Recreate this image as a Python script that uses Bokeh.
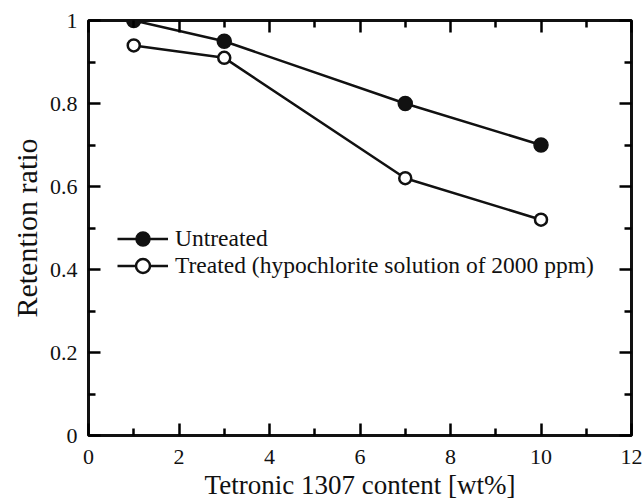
from bokeh.plotting import figure
from bokeh.models import LinearAxis, FixedTicker, Range1d, Legend, LegendItem
from bokeh.embed import file_html
from bokeh.resources import INLINE

content = [1, 3, 7, 10]
untreated = [1.0, 0.95, 0.8, 0.7]
treated = [0.94, 0.91, 0.62, 0.52]
x_ticks = [0, 2, 4, 6, 8, 10, 12]
x_minor = [1, 3, 5, 7, 9, 11]
y_ticks = [0, 0.2, 0.4, 0.6, 0.8, 1.0]
y_minor = [0.1, 0.3, 0.5, 0.7, 0.9]
y_labels = {0: "0", 0.2: "0.2", 0.4: "0.4", 0.6: "0.6", 0.8: "0.8", 1: "1"}

FONT = "Liberation Serif"
INK = "#111111"

p = figure(width=642, height=502, output_backend="svg", toolbar_location=None,
           x_range=Range1d(0, 12), y_range=Range1d(0, 1),
           x_axis_type=None, y_axis_type=None,
           min_border_left=88, min_border_right=11, min_border_top=20, min_border_bottom=66)
p.grid.visible = False
p.outline_line_color = INK
p.outline_line_width = 3
p.background_fill_color = None
p.border_fill_color = "white"

xt = FixedTicker(ticks=x_ticks, minor_ticks=x_minor)
yt = FixedTicker(ticks=y_ticks, minor_ticks=y_minor)

def style(ax, labels=True):
    ax.major_tick_in = 12
    ax.major_tick_out = 0
    ax.minor_tick_in = 7
    ax.minor_tick_out = 0
    ax.major_tick_line_color = "#000000"
    ax.minor_tick_line_color = "#000000"
    ax.major_tick_line_width = 2.5
    ax.minor_tick_line_width = 2.5
    ax.axis_line_color = None
    ax.major_label_text_font = FONT
    ax.major_label_text_font_size = "22px"
    ax.major_label_text_color = INK
    ax.axis_label_text_font = FONT
    ax.axis_label_text_font_style = "normal"
    ax.axis_label_text_color = INK
    if not labels:
        ax.major_label_text_font_size = "0px"
        ax.major_label_text_alpha = 0
        ax.major_label_standoff = 0

xb = LinearAxis(ticker=xt, axis_label="Tetronic 1307 content [wt%]")
style(xb)
xb.axis_label_text_font_size = "27px"
xb.major_label_standoff = 14
xb.axis_label_standoff = 3
yl = LinearAxis(ticker=yt, axis_label="Retention ratio", major_label_overrides=y_labels)
style(yl)
yl.axis_label_text_font_size = "30px"
yl.major_label_standoff = 11
yl.axis_label_standoff = 4
xa = LinearAxis(ticker=xt)
style(xa, False)
yr = LinearAxis(ticker=yt)
style(yr, False)
p.add_layout(xb, "below")
p.add_layout(yl, "left")
p.add_layout(xa, "above")
p.add_layout(yr, "right")

l1 = p.line(content, untreated, line_color=INK, line_width=2.5)
c1 = p.scatter(content, untreated, size=14, marker="circle", fill_color=INK,
               line_color=INK, line_width=1.5)
l2 = p.line(content, treated, line_color=INK, line_width=2.5)
c2 = p.scatter(content, treated, size=12, marker="circle", fill_color="white",
               line_color=INK, line_width=2.5)

common = dict(background_fill_alpha=0, border_line_alpha=0,
              label_text_font=FONT, label_text_font_size="23.5px", label_text_color=INK,
              glyph_width=51, glyph_height=35, spacing=0, padding=0, margin=0,
              label_standoff=7, label_height=24)
leg1 = Legend(items=[LegendItem(label="Untreated", renderers=[l1, c1])],
              location=(29, 179), **common)
leg2 = Legend(items=[LegendItem(label="Treated (hypochlorite solution of 2000 ppm)",
                                renderers=[l2, c2])],
              location=(29, 152), **common)
p.add_layout(leg1, "center")
p.add_layout(leg2, "center")

open("out.html", "w").write(file_html(p, INLINE))
